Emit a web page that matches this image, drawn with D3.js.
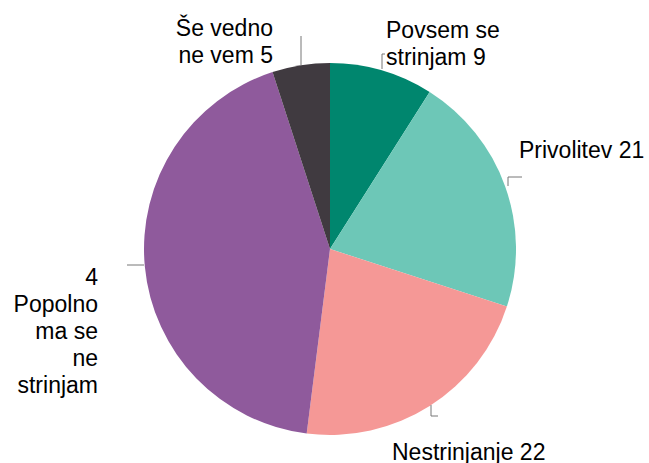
<!DOCTYPE html>
<html>
<head>
<meta charset="utf-8">
<script src="https://cdn.jsdelivr.net/npm/d3@7"></script>
<style>
  body { margin: 0; background: #fff; }
  svg { display: block; }
  .label { font: 23px "Liberation Sans", Arial, sans-serif; fill: #000; }
  .leader { fill: none; stroke: #777; stroke-width: 1; }
</style>
</head>
<body>
<svg id="pie" width="649" height="463"></svg>
<script>
// slices in drawing order, clockwise from 12 o'clock
const categories = ['Povsem se strinjam', 'Privolitev', 'Nestrinjanje', 'Popolnoma se ne strinjam', 'Še vedno ne vem'];
const values = [9, 21, 22, 43, 5];
const colors = ['#00866e', '#6dc7b7', '#f59896', '#8f5a9c', '#403a40'];
// label text as printed on the chart, one entry per line
const labelLines = [
  ['Povsem se', 'strinjam 9'],
  ['Privolitev 21'],
  ['Nestrinjanje 22'],
  ['4', 'Popolno', 'ma se', 'ne', 'strinjam'],
  ['Še vedno', 'ne vem 5']
];

const svg = d3.select('#pie');
const cx = 330, cy = 249, radius = 186;

const g = svg.append('g')
  .attr('transform', `translate(${cx},${cy})`);

const pie = d3.pie().sort(null).value(d => d.value);
const arc = d3.arc().innerRadius(0).outerRadius(radius);

const data = categories.map((c, i) => ({ name: c, value: values[i], color: colors[i], lines: labelLines[i] }));
const arcs = pie(data);

g.selectAll('path.slice')
  .data(arcs)
  .enter().append('path')
  .attr('class', 'slice')
  .attr('d', arc)
  .attr('fill', d => d.data.color);

// label placement relative to the pie centre
const layout = [
  { x: 56, y: -211, anchor: 'start', lead: 'M52,-180 V-195 H55' },
  { x: 189, y: -91, anchor: 'start', lead: 'M178,-63 V-72 H192' },
  { x: 62, y: 211, anchor: 'start', lead: 'M101,156 V167 H108' },
  { x: -232, y: 36, anchor: 'end', lead: 'M-186,16 H-203' },
  { x: -57, y: -213, anchor: 'end', lead: 'M-29,-184 V-213' }
];
const lineHeight = 27;

const labels = g.selectAll('g.lab')
  .data(arcs)
  .enter().append('g')
  .attr('class', 'lab');

labels.append('path')
  .attr('class', 'leader')
  .attr('d', (d, i) => layout[i].lead);

labels.append('text')
  .attr('class', 'label')
  .attr('text-anchor', (d, i) => layout[i].anchor)
  .attr('transform', (d, i) => `translate(${layout[i].x},${layout[i].y})`)
  .selectAll('tspan')
  .data(d => d.data.lines)
  .enter().append('tspan')
  .attr('x', 0)
  .attr('y', (d, j) => j * lineHeight)
  .text(d => d);
</script>
</body>
</html>
